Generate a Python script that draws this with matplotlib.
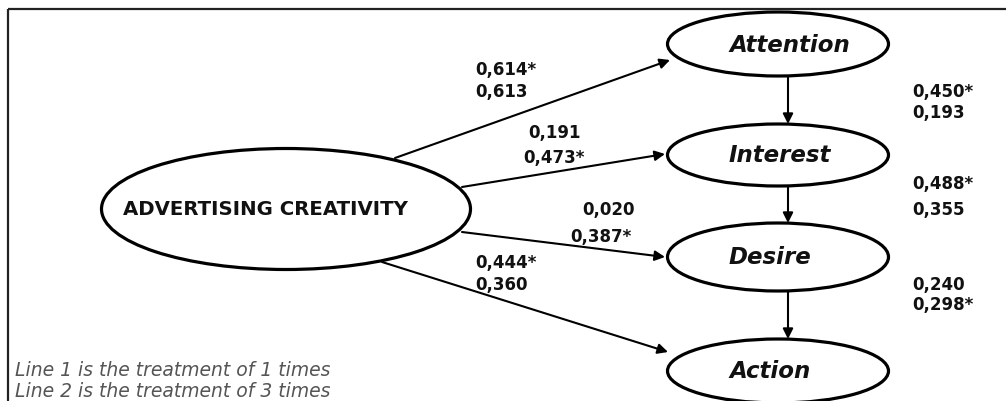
import matplotlib
matplotlib.use("Agg")
import matplotlib.pyplot as plt
from matplotlib.patches import Ellipse, FancyArrowPatch, Rectangle

# данные диаграммы
source = "ADVERTISING CREATIVITY"
stages = ["Attention", "Interest", "Desire", "Action"]
# коэффициенты прямых путей (строка 1 / строка 2)
direct_line1 = ["0,614*", "0,191", "0,020", "0,444*"]
direct_line2 = ["0,613", "0,473*", "0,387*", "0,360"]
# коэффициенты цепочки AIDA (строка 1 / строка 2)
chain_line1 = ["0,450*", "0,488*", "0,240"]
chain_line2 = ["0,193", "0,355", "0,298*"]
notes = ["Line 1 is the treatment of 1 times",
         "Line 2 is the treatment of 3 times"]

# раскладка в пикселях (ось y вниз)
W, H = 1006, 402
src_xy, src_wh = (286, 210), (369, 121)
stage_x, stage_w = 778, 221
stage_y = [45, 156, 258, 372]
stage_h = [64, 62, 68, 64]
stage_text_x = 729
arrow_start = [(395, 159), (462, 188), (462, 233), (382, 263)]
arrow_end = [(670, 61), (665, 155), (665, 258), (668, 353)]
chain_x = 788
direct_pos = [((475, 70), (475, 92)), ((528, 133), (523, 158)),
              ((582, 210), (570, 237)), ((475, 263), (475, 285))]
chain_text_x = 912
chain_pos = [(92, 113), (184, 210), (285, 305)]

fig = plt.figure(figsize=(W / 100, H / 100), dpi=100)
ax = fig.add_axes([0, 0, 1, 1])
ax.set_xlim(0, W)
ax.set_ylim(H, 0)
ax.axis("off")

ax.add_patch(Rectangle((8, 10), W + 20, H + 20, fill=False, lw=1.6,
                       ec="#222222"))

bold = dict(family="DejaVu Sans", weight="bold", color="#111111")

ax.add_patch(Ellipse(src_xy, *src_wh, fill=False, lw=2.3, ec="black"))
ax.text(123, src_xy[1], source, ha="left", va="center",
        fontsize=14.2, **bold)

for i, name in enumerate(stages):
    ax.add_patch(Ellipse((stage_x, stage_y[i]), stage_w, stage_h[i],
                         fill=False, lw=2.3, ec="black"))
    ax.text(stage_text_x, stage_y[i], name, ha="left", va="center",
            fontsize=16.5, style="italic", **bold)

arrow_kw = dict(arrowstyle="-|>,head_length=5,head_width=2.5",
                mutation_scale=1.2, lw=1.5, color="black", shrinkA=0,
                shrinkB=0)
for (x0, y0), (x1, y1) in zip(arrow_start, arrow_end):
    ax.add_patch(FancyArrowPatch((x0, y0), (x1, y1), **arrow_kw))

for i in range(len(stages) - 1):
    y0 = stage_y[i] + stage_h[i] / 2
    y1 = stage_y[i + 1] - stage_h[i + 1] / 2
    ax.add_patch(FancyArrowPatch((chain_x, y0), (chain_x, y1), **arrow_kw))

for (p1, p2), t1, t2 in zip(direct_pos, direct_line1, direct_line2):
    ax.text(*p1, t1, ha="left", va="center", fontsize=12, **bold)
    ax.text(*p2, t2, ha="left", va="center", fontsize=12, **bold)

for (y1, y2), t1, t2 in zip(chain_pos, chain_line1, chain_line2):
    ax.text(chain_text_x, y1, t1, ha="left", va="center", fontsize=12, **bold)
    ax.text(chain_text_x, y2, t2, ha="left", va="center", fontsize=12, **bold)

for k, note in enumerate(notes):
    ax.text(15, 371 + 21 * k, note, ha="left", va="center", fontsize=13.5,
            family="DejaVu Sans", style="italic", color="#555555")

fig.savefig("out.png", dpi=100)
